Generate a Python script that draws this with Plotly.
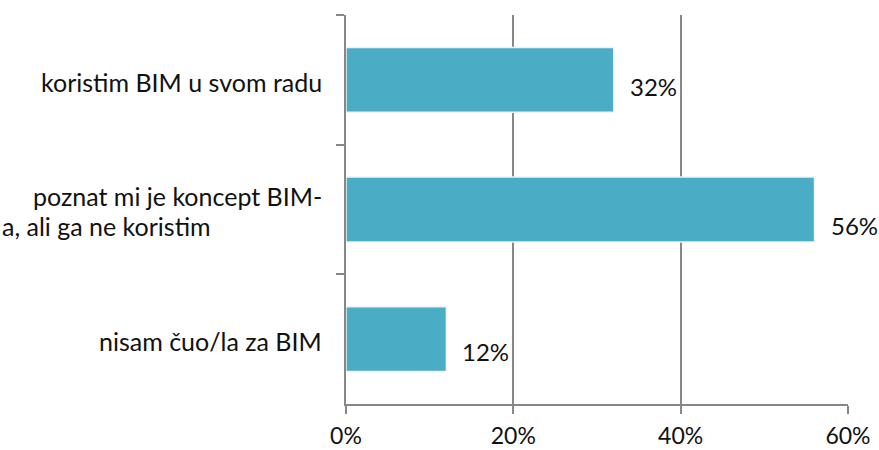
import plotly.graph_objects as go

categories = ["koristim BIM u svom radu",
              "poznat mi je koncept BIM-<br>a, ali ga ne koristim",
              "nisam čuo/la za BIM"]
values = [32, 56, 12]
value_labels = ["32%", "56%", "12%"]
x_ticks = [0, 20, 40, 60]
x_tick_labels = ["0%", "20%", "40%", "60%"]

FONT = "Lato"
FS = 24
FS_TICK = 23
FS_CAT = 25
TXT = "#111111"
AX = "#878787"
BAR = "#4BACC6"

fig = go.Figure()
fig.add_trace(go.Bar(
    y=categories, x=values, orientation="h",
    marker=dict(color=BAR, line=dict(color="#f2f2f2", width=1.5)),
    hoverinfo="skip",
))

label_yshift = [-7, -16, -12]
annotations = []
for i, (c, v, t) in enumerate(zip(categories, values, value_labels)):
    annotations.append(dict(x=v, y=c, xref="x", yref="y", text=t, showarrow=False,
                            xanchor="left", xshift=14, yshift=label_yshift[i],
                            font=dict(family=FONT, size=FS, color=TXT)))
    lines = c.split("<br>")
    if len(lines) == 1:
        annotations.append(dict(x=0, y=c, xref="paper", yref="y", text=c, showarrow=False,
                                xanchor="right", xshift=-22, yshift=-2,
                                font=dict(family=FONT, size=FS_CAT, color=TXT)))
    else:
        annotations.append(dict(x=0, y=c, xref="paper", yref="y", text=lines[0], showarrow=False,
                                xanchor="right", xshift=-22, yshift=14,
                                font=dict(family=FONT, size=FS_CAT, color=TXT)))
        annotations.append(dict(x=0, y=c, xref="paper", yref="y", text=lines[1], showarrow=False,
                                xanchor="left", xshift=-346, yshift=-16,
                                font=dict(family=FONT, size=FS_CAT, color=TXT)))

fig.update_layout(
    width=879, height=450,
    margin=dict(l=346, r=31, t=15, b=46, autoexpand=False),
    plot_bgcolor="white", paper_bgcolor="white",
    showlegend=False,
    bargap=0.5,
    annotations=annotations,
    xaxis=dict(range=[0, 60], tickvals=x_ticks, ticktext=x_tick_labels,
               showgrid=True, gridcolor=AX, gridwidth=1.5,
               showline=True, linecolor=AX, linewidth=1.5,
               ticks="outside", ticklen=8, tickcolor=AX, tickwidth=1.5,
               ticklabelstandoff=3, automargin=False,
               tickfont=dict(family=FONT, size=FS_TICK, color=TXT),
               zeroline=False, fixedrange=True),
    yaxis=dict(autorange="reversed", showticklabels=False, automargin=False,
               showline=True, linecolor=AX, linewidth=1.5,
               ticks="outside", ticklen=8, tickcolor=AX, tickwidth=1.5,
               tickson="boundaries", showgrid=False, fixedrange=True),
)

fig.write_html("out.html", config={"displayModeBar": False},
               post_script="document.body.style.margin='0';document.body.style.overflow='hidden';")
